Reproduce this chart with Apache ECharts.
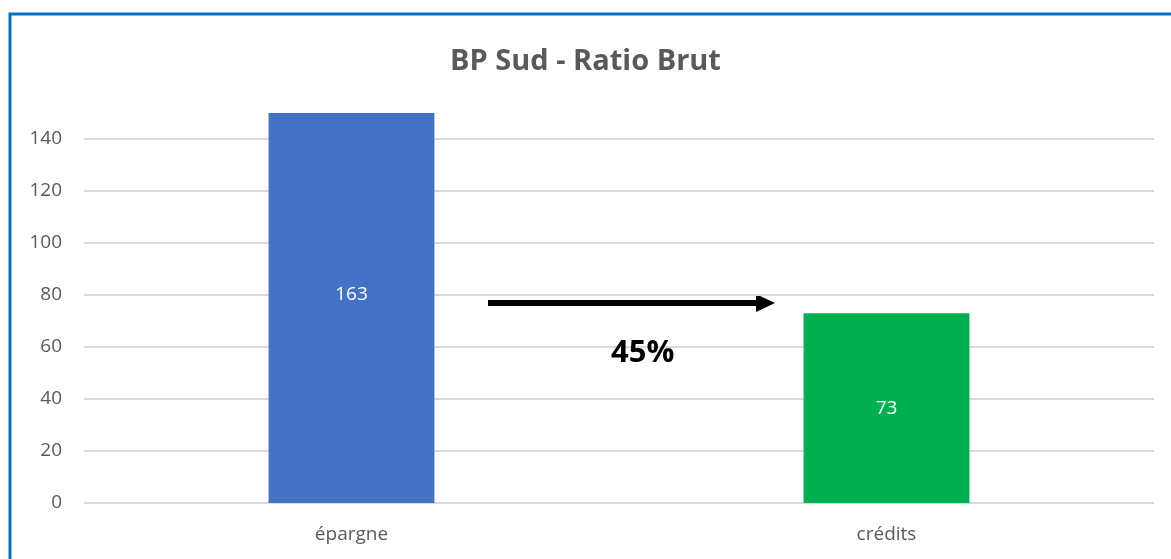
<!DOCTYPE html>
<html>
<head>
<meta charset="utf-8">
<script src="https://cdn.jsdelivr.net/npm/echarts@6/dist/echarts.min.js"></script>
<style>
  html, body { margin: 0; padding: 0; background: #fff; }
  #chart { width: 1171px; height: 559px; }
</style>
</head>
<body>
<div id="chart"></div>
<script>
const categories = ['épargne', 'crédits'];
const values = [163, 73];
const barColors = ['#4472c4', '#00b050'];
const ratioLabel = '45%';

const chart = echarts.init(document.getElementById('chart'), null, { renderer: 'canvas' });

const grey = '#595959';
const font = '"Open Sans", "Noto Sans", sans-serif';
const yMax = 150;

chart.setOption({
  backgroundColor: '#fff',
  animation: false,
  title: {
    text: 'BP Sud - Ratio Brut',
    left: 'center',
    top: 42,
    textStyle: { color: grey, fontSize: 29, fontWeight: 'bold', fontFamily: font },
  },
  grid: { left: 84, right: 17, top: 113, bottom: 56 },
  xAxis: {
    type: 'category',
    data: categories,
    axisLine: { show: false },
    axisTick: { show: false },
    axisLabel: { color: grey, fontSize: 19, fontFamily: font, margin: 22 },
  },
  yAxis: {
    type: 'value',
    min: 0,
    max: yMax,
    interval: 20,
    axisLine: { show: false },
    axisTick: { show: false },
    axisLabel: { color: grey, fontSize: 19, fontFamily: font, margin: 22, showMaxLabel: false },
    splitLine: { showMaxLine: false, lineStyle: { color: '#d9d9d9', width: 2 } },
  },
  series: [{
    type: 'bar',
    barWidth: '31%',
    clip: true,
    data: values.map((v, i) => ({
      value: v,
      itemStyle: { color: barColors[i] },
      // label sits in the middle of the full (unclipped) bar, like the original
      label: v > yMax ? { offset: [0, -13] } : undefined,
    })),
    label: {
      show: true,
      position: 'inside',
      color: '#fff',
      fontSize: 19,
      fontFamily: font,
    },
  }],
  graphic: [
    {
      type: 'polyline',
      shape: { points: [[10, 559], [10, 14], [1171, 14]] },
      style: { stroke: '#0070c0', lineWidth: 3, fill: null },
    },
    {
      type: 'line',
      shape: { x1: 488, y1: 303, x2: 760, y2: 303 },
      style: { stroke: '#000', lineWidth: 6 },
    },
    {
      type: 'polygon',
      shape: { points: [[756, 294], [775, 303], [756, 312]] },
      style: { fill: '#000' },
    },
    {
      type: 'text',
      left: 611,
      top: 338,
      z: 100,
      style: { text: ratioLabel, fill: '#000', font: 'bold 31px ' + font },
    },
  ],
});
</script>
</body>
</html>
